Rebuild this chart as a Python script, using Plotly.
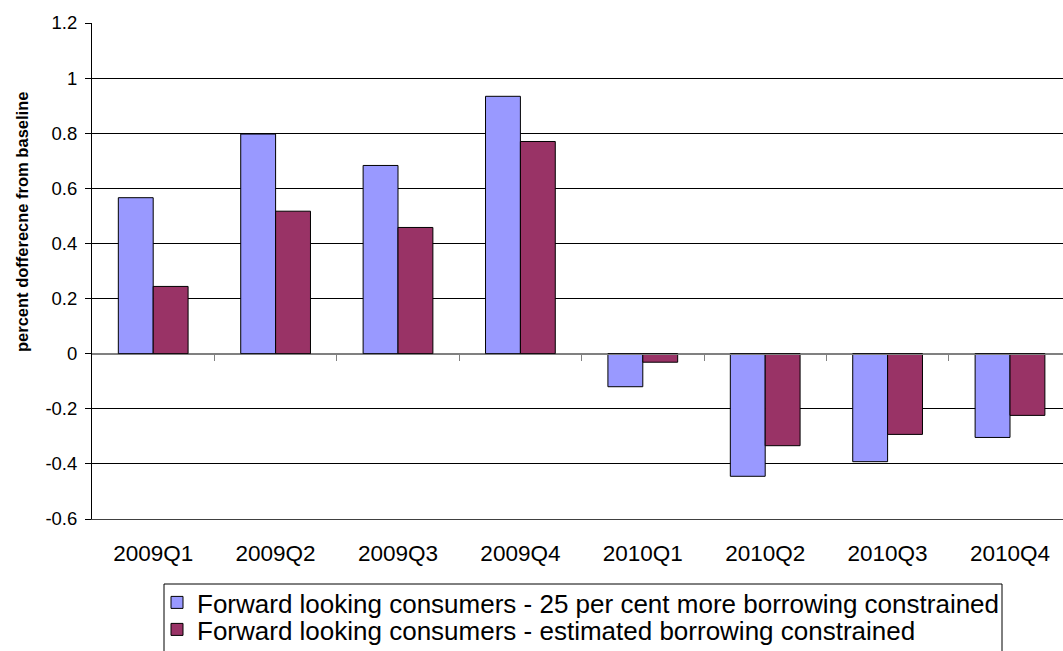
import plotly.graph_objects as go

categories = ["2009Q1", "2009Q2", "2009Q3", "2009Q4", "2010Q1", "2010Q2", "2010Q3", "2010Q4"]
series_more = [0.566, 0.797, 0.683, 0.934, -0.120, -0.445, -0.392, -0.304]
series_est = [0.244, 0.517, 0.458, 0.770, -0.031, -0.334, -0.293, -0.224]
name_more = "Forward looking consumers - 25 per cent more borrowing constrained"
name_est = "Forward looking consumers - estimated borrowing constrained"
y_ticks = [-0.6, -0.4, -0.2, 0, 0.2, 0.4, 0.6, 0.8, 1, 1.2]
y_ticktext = ["-0.6", "-0.4", "-0.2", "0", "0.2", "0.4", "0.6", "0.8", "1", "1.2"]
y_title = "percent dofferecne from baseline"

FONT = "Liberation Sans, Arial, sans-serif"
W, H = 1063, 651
ML, MT, MB = 92, 23, 132
PW, PH = W - ML, H - MT - MB
n = len(categories)
x_range = [-0.5, n - 0.5 - 0.067]


def px_x(px):
    return (px - ML) / PW


def px_y(py):
    return (MT + PH - py) / PH


fig = go.Figure()
fig.add_trace(go.Bar(x=categories, y=series_more, name=name_more, legend="legend",
                     marker=dict(color="#9999FF", line=dict(color="#000000", width=1))))
fig.add_trace(go.Bar(x=categories, y=series_est, name=name_est, legend="legend2",
                     marker=dict(color="#993366", line=dict(color="#000000", width=1))))

legend_common = dict(xanchor="left", yanchor="top", orientation="v",
                     borderwidth=0, bgcolor="rgba(0,0,0,0)",
                     font=dict(size=26, family=FONT, color="black"), itemwidth=30)

fig.update_layout(
    width=W, height=H,
    margin=dict(l=ML, r=0, t=MT, b=MB, autoexpand=False),
    paper_bgcolor="white", plot_bgcolor="white",
    barmode="group", bargap=0.43, bargroupgap=0,
    font=dict(family=FONT, color="black", size=19),
    xaxis=dict(type="category", range=x_range, showgrid=False,
               showline=True, linecolor="#404040", linewidth=1, mirror=False,
               ticks="", tickfont=dict(size=22.5), ticklabelstandoff=14),
    xaxis2=dict(type="linear", range=x_range, overlaying="x", anchor="free",
                position=(0 - y_ticks[0]) / (y_ticks[-1] - y_ticks[0]),
                showline=True, linecolor="#808080", linewidth=1,
                tickmode="array", tickvals=[i + 0.5 for i in range(n - 1)],
                ticks="outside", ticklen=6, tickcolor="#808080", tickwidth=1,
                showticklabels=False, showgrid=False, zeroline=False),
    yaxis=dict(range=[y_ticks[0], y_ticks[-1]], tickmode="array", tickvals=y_ticks,
               ticktext=y_ticktext, showgrid=True, gridcolor="#000000", gridwidth=1,
               zeroline=True, zerolinecolor="#808080", zerolinewidth=1,
               showline=True, linecolor="#000000", linewidth=1,
               ticks="outside", ticklen=6, tickcolor="#000000",
               tickfont=dict(size=18.5), ticklabelstandoff=4),
    legend=dict(x=px_x(157), y=px_y(579), **legend_common),
    legend2=dict(x=px_x(157), y=px_y(606), **legend_common),
    showlegend=True,
    shapes=[dict(type="rect", xref="paper", yref="paper",
                 x0=px_x(164), x1=px_x(1002), y0=px_y(584), y1=px_y(670),
                 line=dict(color="#000000", width=1), fillcolor="rgba(0,0,0,0)",
                 layer="below")],
    annotations=[dict(text="<b>" + y_title + "</b>", textangle=-90,
                      xref="paper", yref="paper",
                      x=px_x(22), y=px_y(222),
                      xanchor="center", yanchor="middle", showarrow=False,
                      font=dict(size=16.5, family=FONT, color="black"))],
)

# invisible trace that activates the zero-line category axis
fig.add_trace(go.Scatter(x=[0], y=[0], xaxis="x2", mode="markers",
                         marker=dict(opacity=0), showlegend=False, hoverinfo="skip"))

fig.write_html("out.html")
